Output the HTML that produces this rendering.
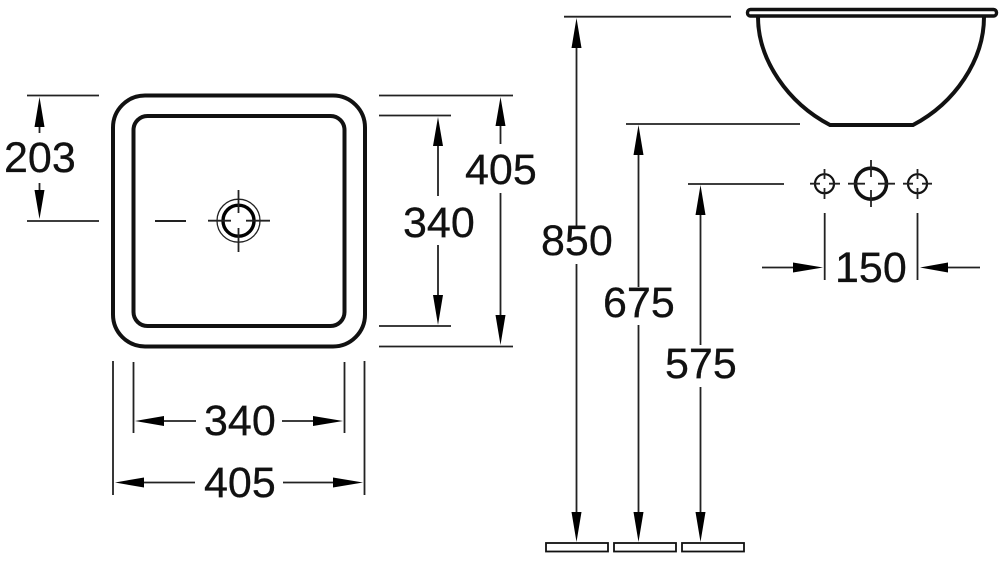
<!DOCTYPE html>
<html><head><meta charset="utf-8"><style>
html,body{margin:0;padding:0;background:#fff;width:1000px;height:564px;overflow:hidden}
svg{display:block}
text{font-family:"Liberation Sans",sans-serif;font-size:43px;fill:#111;stroke:#111;stroke-width:.3}
.t{stroke:#222;stroke-width:1.8;fill:none}
.m{stroke:#111;stroke-width:4;fill:none}
.a{fill:#000}
</style></head><body>
<svg width="1000" height="564" viewBox="0 0 1000 564" xmlns="http://www.w3.org/2000/svg">
<!-- top view -->
<rect class="m" x="113" y="95.5" width="252" height="251" rx="32" ry="32"/>
<rect class="m" x="133.5" y="116" width="211" height="210" rx="14" ry="14"/>
<path class="t" d="M155 221H186" style="stroke-width:2"/>
<circle cx="238.5" cy="220.7" r="21.5" fill="none" stroke="#222" stroke-width="1.3"/>
<circle cx="238.5" cy="220.7" r="15.5" fill="none" stroke="#000" stroke-width="3.4"/>
<path class="t" d="M208 220.7H231M246 220.7H270M238.5 190V213M238.5 228V252"/>
<!-- 203 -->
<path class="t" d="M27 95.5H99M27 221H99M39.5 125V133M39.5 183V192"/>
<path class="a" d="M39.5 97L44.5 127H34.5ZM39.5 219L44.5 190H34.5Z"/>
<text x="4" y="172">203</text>
<!-- right 340 / 405 -->
<path class="t" d="M379 95.5H513M379 346.5H513M379 115.5H451M379 326H451M438 145V196M438 245V296M500.5 124V144M500.5 193V316"/>
<path class="a" d="M438 117L443 146H433ZM438 325L443 295H433ZM500.5 97L505.5 126H495.5ZM500.5 345L505.5 315H495.5Z"/>
<text x="403" y="237">340</text>
<text x="465" y="184">405</text>
<!-- bottom 340 / 405 -->
<path class="t" d="M113 361V495M364.5 361V495M133.5 362V433M344.5 362V433M163 421H196M282 421H314M143 482.5H195M283 482.5H334"/>
<path class="a" d="M135 421L164 416V426ZM343 421L313 416V426ZM115 482.5L144 477.5V487.5ZM363 482.5L333 477.5V487.5Z"/>
<text x="204" y="435">340</text>
<text x="204" y="497">405</text>
<!-- basin profile -->
<rect x="747.5" y="9.5" width="249" height="6.5" rx="3" ry="3" fill="none" stroke="#111" stroke-width="3.4"/>
<path class="m" d="M758 17C758 60 788 103 830 125H913C955 103 984 60 984 17"/>
<!-- heights -->
<path class="t" d="M564 16.7H731M626 124H800M688 184H784M576.5 47V228M576.5 264V512M638.5 154V287M638.5 325V512M700.5 214V345M700.5 387V512"/>
<path class="a" d="M576.5 18L581.5 48H571.5ZM638.5 125L643.5 155H633.5ZM700.5 185L705.5 215H695.5ZM576.5 542L581.5 512H571.5ZM638.5 542L643.5 512H633.5ZM700.5 542L705.5 512H695.5Z"/>
<text x="541" y="255">850</text>
<text x="603" y="317">675</text>
<text x="665" y="378">575</text>
<g fill="none" stroke="#111" stroke-width="1.8">
<rect x="546" y="543" width="62" height="8.5"/>
<rect x="614" y="543" width="62" height="8.5"/>
<rect x="682" y="543" width="62" height="8.5"/>
</g>
<!-- taps -->
<circle cx="824.5" cy="183.7" r="9.5" fill="none" stroke="#111" stroke-width="2.2"/>
<circle cx="871" cy="183.7" r="15.5" fill="none" stroke="#111" stroke-width="3.6"/>
<circle cx="917.5" cy="183.7" r="9.5" fill="none" stroke="#111" stroke-width="2.2"/>
<path class="t" d="M810 183.7H820M829 183.7H840M824.5 169V179M824.5 188V199M848 183.7H865M878 183.7H895M871 160V177M871 190V207M903 183.7H913M922 183.7H932M917.5 169V179M917.5 188V199"/>
<path class="t" d="M824.7 213V280M917.5 213V280M762 267.5H795M947 267.5H980"/>
<path class="a" d="M823 267.5L793 262.5V272.5ZM920 267.5L948 262.5V272.5Z"/>
<text x="835" y="282">150</text>
</svg>
</body></html>
